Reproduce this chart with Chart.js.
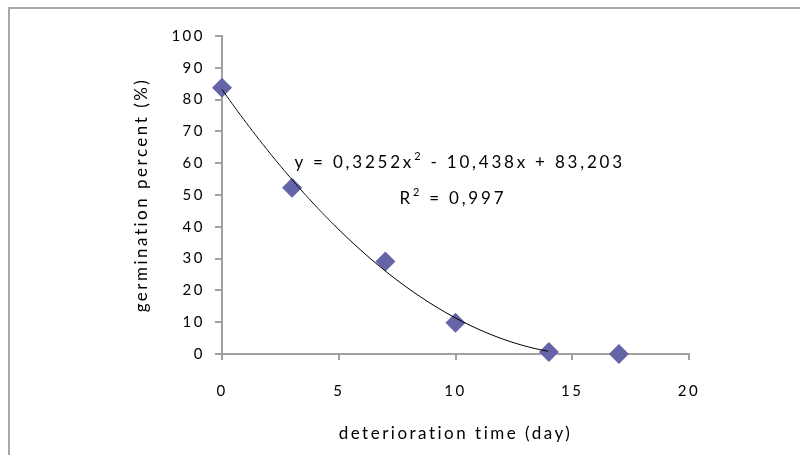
<!DOCTYPE html>
<html>
<head>
<meta charset="utf-8">
<script src="https://cdn.jsdelivr.net/npm/chart.js@4.4.1/dist/chart.umd.min.js"></script>
<style>
    html, body { margin: 0; padding: 0; background: #fff; }
    #wrap { position: relative; width: 800px; height: 455px; overflow: hidden; }
    #frame { position: absolute; left: 8px; top: 7px; right: -4px; bottom: -4px;
             border-top: 2px solid #a9a9a9; border-left: 2px solid #a9a9a9; }
    canvas { position: absolute; left: 0; top: 0; }
</style>
</head>
<body>
<div id="wrap">
    <div id="frame"></div>
    <canvas id="germChart" width="800" height="455"></canvas>
</div>
<script>
// Data
const days = [0, 3, 7, 10, 14, 17];
const germination = [83.7, 52.3, 29.1, 9.8, 0.6, 0];
const xTickValues = [0, 5, 10, 15, 20];
const yTickValues = [0, 10, 20, 30, 40, 50, 60, 70, 80, 90, 100];

// Polynomial trendline as printed on the chart: c0 + c1*x + c2*x^2
const trendCoef = [83.203, -10.438, 0.3252];
const trendRange = [0, 14];
const equationParts = [['y = 0,3252x', false], ['2', true], [' - 10,438x + 83,203', false]];
const r2Parts = [['R', false], ['2', true], [' = 0,997', false]];

const FONT = 'Lato, "Open Sans", sans-serif';
const AXIS_GREY = '#a0a0a0';
const TEXT = '#000';

// Wider letter spacing like the original rendering
const spacingPlugin = {
    id: 'spacing',
    beforeUpdate(chart) { chart.ctx.letterSpacing = '2.5px'; },
    beforeDraw(chart) { chart.ctx.letterSpacing = '2.5px'; }
};

function drawRich(ctx, parts, x, y, size) {
    let cx = x;
    parts.forEach(([txt, sup]) => {
        ctx.font = (sup ? Math.round(size * 0.62) : size) + 'px ' + FONT;
        ctx.fillText(txt, cx, sup ? y - size * 0.38 : y);
        cx += ctx.measureText(txt).width;
    });
}

const trendPlugin = {
    id: 'trend',
    afterDatasetsDraw(chart) {
        const { ctx, scales: { x, y } } = chart;
        const p0 = x.getPixelForValue(trendRange[0]);
        const p1 = x.getPixelForValue(trendRange[1]);
        ctx.save();
        ctx.beginPath();
        ctx.strokeStyle = '#000';
        ctx.lineWidth = 1;
        for (let px = p0; px <= p1; px += 1) {
            const v = x.getValueForPixel(px);
            const val = trendCoef[0] + trendCoef[1] * v + trendCoef[2] * v * v;
            const py = y.getPixelForValue(val);
            if (px === p0) ctx.moveTo(px, py); else ctx.lineTo(px, py);
        }
        ctx.stroke();

        // equation and R squared
        ctx.fillStyle = TEXT;
        ctx.textBaseline = 'middle';
        ctx.textAlign = 'left';
        ctx.letterSpacing = '2.8px';
        drawRich(ctx, equationParts, x.getPixelForValue(3.1), y.getPixelForValue(60.2), 17);
        drawRich(ctx, r2Parts, x.getPixelForValue(7.6), y.getPixelForValue(48.9), 17);
        ctx.restore();
    }
};

const ctx = document.getElementById('germChart');
new Chart(ctx, {
    type: 'scatter',
    data: {
        datasets: [{
            label: 'germination',
            data: days.map((d, i) => ({ x: d, y: germination[i] })),
            pointStyle: 'rectRot',
            pointRadius: 10,
            pointHoverRadius: 10,
            backgroundColor: '#6464a6',
            borderColor: '#6464a6',
            borderWidth: 0,
            clip: false
        }]
    },
    options: {
        responsive: false,
        animation: false,
        layout: { padding: { top: 36, right: 111, left: 0, bottom: 0 } },
        plugins: {
            legend: { display: false },
            tooltip: { enabled: false }
        },
        scales: {
            x: {
                type: 'linear',
                min: 0,
                max: 20,
                afterFit(scale) { scale.height = 101; },
                afterBuildTicks(scale) { scale.ticks = xTickValues.map(v => ({ value: v })); },
                border: { display: true, color: AXIS_GREY, width: 2 },
                grid: { drawOnChartArea: false, drawTicks: true, tickLength: 6, color: AXIS_GREY, lineWidth: 2 },
                ticks: { color: TEXT, padding: 22, maxRotation: 0, font: { family: FONT, size: 15 } },
                title: {
                    display: true,
                    text: 'deterioration time (day)',
                    color: TEXT,
                    font: { family: FONT, size: 17 },
                    padding: { top: 0, bottom: 11 }
                }
            },
            y: {
                type: 'linear',
                min: 0,
                max: 100,
                afterFit(scale) { scale.width = 222; },
                afterBuildTicks(scale) { scale.ticks = yTickValues.map(v => ({ value: v })); },
                border: { display: true, color: AXIS_GREY, width: 2 },
                grid: { drawOnChartArea: false, drawTicks: true, tickLength: 7, color: AXIS_GREY, lineWidth: 2 },
                ticks: { color: TEXT, padding: 10, font: { family: FONT, size: 15 } },
                title: {
                    display: true,
                    text: 'germination percent (%)',
                    color: TEXT,
                    font: { family: FONT, size: 17 },
                    padding: { top: 131, bottom: 0 }
                }
            }
        }
    },
    plugins: [spacingPlugin, trendPlugin]
});
</script>
</body>
</html>
